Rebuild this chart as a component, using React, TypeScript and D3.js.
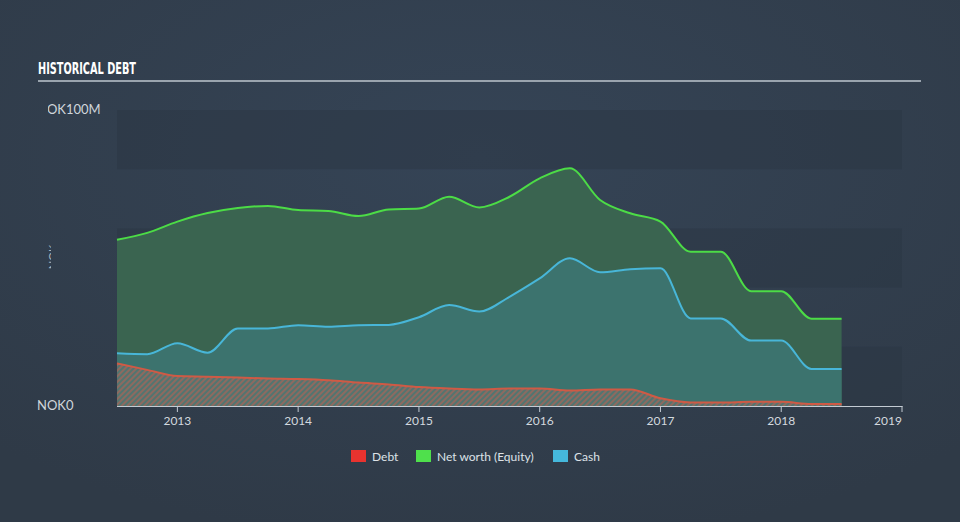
import React from "react";
import * as d3 from "d3";

const quarters = [
  2012.5, 2012.75, 2013.0, 2013.25, 2013.5, 2013.75, 2014.0, 2014.25, 2014.5, 2014.75,
  2015.0, 2015.25, 2015.5, 2015.75, 2016.0, 2016.25, 2016.5, 2016.75, 2017.0, 2017.25,
  2017.5, 2017.75, 2018.0, 2018.25, 2018.5,
];
const equity = [
  56.2, 58.5, 62.3, 65.2, 66.9, 67.6, 66.2, 65.9, 64.2, 66.4,
  66.7, 70.7, 67.1, 70.7, 76.9, 80.3, 69.6, 65.1, 62.3, 52.1,
  52.1, 38.8, 38.8, 29.5, 29.5,
];
const cash = [
  17.8, 17.5, 21.2, 18.0, 26.2, 26.2, 27.3, 26.8, 27.3, 27.4,
  30.0, 34.1, 31.9, 36.9, 43.1, 49.9, 45.2, 46.2, 46.5, 29.6,
  29.6, 22.1, 22.1, 12.5, 12.5,
];
const debt = [
  14.4, 12.2, 10.1, 9.9, 9.6, 9.3, 9.1, 8.7, 7.9, 7.3,
  6.4, 5.9, 5.6, 5.9, 5.9, 5.2, 5.6, 5.6, 2.6, 1.2,
  1.2, 1.4, 1.4, 0.7, 0.7,
];
const yearTicks = [2013, 2014, 2015, 2016, 2017, 2018, 2019];
const bandStarts = [0, 40, 80];
const legendItems = [
  { label: "Debt", color: "#e8332f" },
  { label: "Net worth (Equity)", color: "#4fe04c" },
  { label: "Cash", color: "#45b8dc" },
];

const W = 960;
const H = 522;
const left = 117;
const right = 902;
const top = 110;
const bottom = 406;
const font = "Lato, 'Open Sans', sans-serif";

export default function App() {
  const x = d3.scaleLinear().domain([2012.5, 2019]).range([left, right]);
  const y = d3.scaleLinear().domain([0, 100]).range([bottom, top]);
  const curve = d3.curveMonotoneX;

  const mk = (vals: number[]) => {
    const pts = quarters.map((q, i) => [q, vals[i]] as [number, number]);
    const area = d3
      .area<[number, number]>()
      .x((d) => x(d[0]))
      .y0(y(0))
      .y1((d) => y(d[1]))
      .curve(curve)(pts) as string;
    const line = d3
      .line<[number, number]>()
      .x((d) => x(d[0]))
      .y((d) => y(d[1]))
      .curve(curve)(pts) as string;
    return { area, line };
  };
  const eq = mk(equity);
  const ca = mk(cash);
  const de = mk(debt);

  return (
    <svg width={W} height={H} style={{ display: "block", position: "absolute", left: 0, top: 0 }}>
      <defs>
        <radialGradient id="bg" cx="50%" cy="30%" r="75%">
          <stop offset="0%" stopColor="#354456" />
          <stop offset="100%" stopColor="#2f3a47" />
        </radialGradient>
        <pattern id="hatch" width="4" height="4" patternUnits="userSpaceOnUse" patternTransform="rotate(45)">
          <rect width="4" height="4" fill="#527570" />
          <rect width="2" height="4" fill="#8d6a60" />
        </pattern>
        <clipPath id="lblclip">
          <rect x={48} y={0} width={200} height={H} />
        </clipPath>
        <clipPath id="rotclip">
          <rect x={48} y={0} width={3} height={H} />
        </clipPath>
      </defs>
      <rect width={W} height={H} fill="url(#bg)" />

      {/* title */}
      <text
        x={38}
        y={74}
        fill="#ffffff"
        fontFamily="'Liberation Sans Narrow', 'DejaVu Sans Condensed', sans-serif"
        fontWeight="bold"
        fontSize={16}
        textLength={98}
        lengthAdjust="spacingAndGlyphs"
      >
        HISTORICAL DEBT
      </text>
      <rect x={38} y={80} width={883} height={2} fill="#9aa4ae" />

      {/* bands */}
      {bandStarts.map((b) => (
        <rect
          key={b}
          x={left}
          y={y(b + 20)}
          width={right - left}
          height={y(b) - y(b + 20)}
          fill="#2a3543"
          opacity={0.45}
        />
      ))}

      {/* y labels */}
      <text x={37} y={114} fill="#cfd5db" fontFamily={font} fontSize={13} clipPath="url(#lblclip)">
        NOK100M
      </text>
      <text x={37} y={410} fill="#cfd5db" fontFamily={font} fontSize={13}>
        NOK0
      </text>
      <g clipPath="url(#rotclip)">
        <text
          transform={`translate(57,257) rotate(-90)`}
          textAnchor="middle"
          fill="#aab3bc"
          fontFamily={font}
          fontSize={11}
        >
          NOK
        </text>
      </g>

      {/* areas */}
      <path d={eq.area} fill="#3a6450" />
      <path d={ca.area} fill="#3c736e" />
      <path d={de.area} fill="url(#hatch)" />
      <path d={eq.line} fill="none" stroke="#4cdc46" strokeWidth={2} />
      <path d={ca.line} fill="none" stroke="#48b6d8" strokeWidth={2} />
      <path d={de.line} fill="none" stroke="#cf5a45" strokeWidth={2} />

      {/* x axis */}
      <line x1={left} x2={right + 0.5} y1={bottom + 0.5} y2={bottom + 0.5} stroke="#c3cbd3" strokeWidth={1} />
      {yearTicks.map((t) => (
        <g key={t}>
          <line x1={x(t)} x2={x(t)} y1={bottom} y2={bottom + 6} stroke="#c3cbd3" strokeWidth={1} />
          <text
            x={t === 2019 ? x(t) - 14 : x(t)}
            y={425}
            textAnchor="middle"
            fill="#d3d9df"
            fontFamily={font}
            fontSize={12}
          >
            {t}
          </text>
        </g>
      ))}

      {/* legend */}
      {(() => {
        const xs = [351, 416, 553];
        return legendItems.map((it, i) => (
          <g key={it.label}>
            <rect x={xs[i]} y={450} width={15} height={12} fill={it.color} />
            <text x={xs[i] + 21} y={460.5} fill="#dde2e7" fontFamily={font} fontSize={12}>
              {it.label}
            </text>
          </g>
        ));
      })()}
    </svg>
  );
}
